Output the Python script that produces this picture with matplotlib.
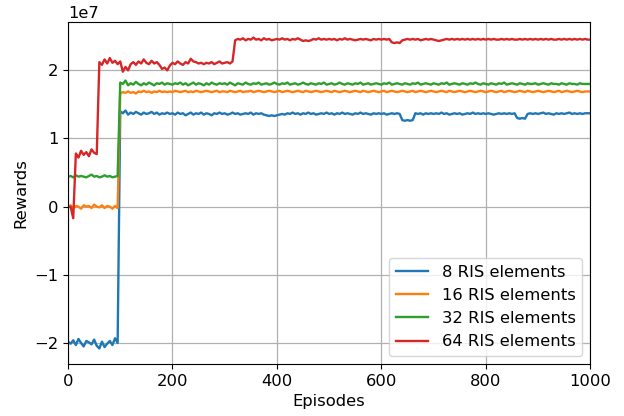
import numpy as np
import matplotlib
matplotlib.use("Agg")
import matplotlib.pyplot as plt

plt.rcParams["font.size"] = 11.8

# Episodes sampled every 5 steps
episodes = np.arange(0, 1001, 5)

# Rewards in units of 1e7, one row per 100 episodes
rewards_8 = [
    -1.98, -2.01, -1.96, -2.03, -1.94, -2.00, -2.05, -1.97, -1.99, -2.02, -1.95, -2.04, -2.08, -1.98, -2.06, -2.01, -1.97, -2.03, -1.93, -2.00,
    1.40, 1.37, 1.41, 1.35, 1.38, 1.36, 1.39, 1.37, 1.35, 1.38, 1.36, 1.37, 1.39, 1.36, 1.38, 1.35, 1.37, 1.36, 1.38, 1.36,
    1.37, 1.35, 1.38, 1.36, 1.37, 1.34, 1.36, 1.38, 1.35, 1.37, 1.36, 1.38, 1.35, 1.37, 1.36, 1.34, 1.37, 1.36, 1.38, 1.36,
    1.37, 1.35, 1.36, 1.38, 1.36, 1.37, 1.35, 1.36, 1.37, 1.36, 1.38, 1.35, 1.37, 1.36, 1.37, 1.35, 1.34, 1.33, 1.34, 1.33,
    1.34, 1.35, 1.36, 1.35, 1.37, 1.36, 1.38, 1.36, 1.37, 1.35, 1.37, 1.36, 1.38, 1.36, 1.37, 1.35, 1.36, 1.37, 1.36, 1.38,
    1.36, 1.37, 1.35, 1.37, 1.36, 1.38, 1.36, 1.37, 1.36, 1.35, 1.37, 1.36, 1.38, 1.36, 1.37, 1.36, 1.35, 1.37, 1.36, 1.37,
    1.36, 1.37, 1.35, 1.36, 1.37, 1.36, 1.37, 1.36, 1.27, 1.26, 1.27, 1.26, 1.27, 1.37, 1.36, 1.37, 1.35, 1.37, 1.36, 1.37,
    1.36, 1.37, 1.36, 1.38, 1.36, 1.37, 1.35, 1.36, 1.37, 1.36, 1.37, 1.35, 1.36, 1.37, 1.36, 1.38, 1.36, 1.37, 1.36, 1.37,
    1.36, 1.37, 1.36, 1.35, 1.36, 1.37, 1.36, 1.37, 1.36, 1.37, 1.36, 1.37, 1.30, 1.29, 1.30, 1.29, 1.36, 1.37, 1.36, 1.37,
    1.36, 1.37, 1.38, 1.36, 1.37, 1.36, 1.35, 1.37, 1.36, 1.37, 1.36, 1.37, 1.38, 1.36, 1.37, 1.36, 1.37, 1.36, 1.37, 1.37,
    1.37,
]

rewards_16 = [
    -0.01, 0.02, -0.02, 0.01, 0.00, -0.03, 0.02, 0.00, 0.01, -0.02, 0.03, 0.00, -0.01, 0.02, -0.02, 0.01, 0.00, -0.03, 0.01, -0.02,
    1.66, 1.68, 1.67, 1.69, 1.67, 1.68, 1.66, 1.69, 1.68, 1.70, 1.68, 1.69, 1.67, 1.69, 1.68, 1.70, 1.68, 1.69, 1.68, 1.69,
    1.68, 1.70, 1.69, 1.68, 1.69, 1.70, 1.68, 1.69, 1.68, 1.70, 1.69, 1.68, 1.69, 1.70, 1.69, 1.68, 1.69, 1.70, 1.68, 1.69,
    1.69, 1.68, 1.70, 1.69, 1.68, 1.69, 1.70, 1.68, 1.69, 1.69, 1.70, 1.68, 1.69, 1.70, 1.69, 1.68, 1.69, 1.70, 1.69, 1.68,
    1.69, 1.70, 1.68, 1.69, 1.70, 1.69, 1.68, 1.69, 1.70, 1.69, 1.68, 1.70, 1.69, 1.68, 1.69, 1.70, 1.69, 1.68, 1.69, 1.70,
    1.69, 1.68, 1.70, 1.69, 1.68, 1.69, 1.70, 1.69, 1.68, 1.69, 1.70, 1.69, 1.68, 1.70, 1.69, 1.68, 1.69, 1.70, 1.69, 1.68,
    1.69, 1.70, 1.68, 1.69, 1.70, 1.69, 1.68, 1.69, 1.70, 1.69, 1.68, 1.69, 1.70, 1.68, 1.69, 1.70, 1.69, 1.68, 1.69, 1.70,
    1.69, 1.68, 1.69, 1.70, 1.69, 1.68, 1.70, 1.69, 1.68, 1.69, 1.70, 1.69, 1.68, 1.69, 1.70, 1.69, 1.68, 1.69, 1.70, 1.69,
    1.68, 1.69, 1.70, 1.69, 1.68, 1.69, 1.70, 1.68, 1.69, 1.70, 1.69, 1.68, 1.69, 1.70, 1.69, 1.68, 1.70, 1.69, 1.68, 1.69,
    1.70, 1.69, 1.68, 1.69, 1.70, 1.69, 1.68, 1.69, 1.70, 1.68, 1.69, 1.70, 1.69, 1.68, 1.69, 1.70, 1.69, 1.68, 1.69, 1.69,
    1.69,
]

rewards_32 = [
    0.44, 0.45, 0.43, 0.46, 0.44, 0.45, 0.44, 0.43, 0.45, 0.47, 0.44, 0.45, 0.43, 0.44, 0.46, 0.44, 0.45, 0.43, 0.44, 0.45,
    1.82, 1.80, 1.85, 1.78, 1.81, 1.79, 1.83, 1.80, 1.78, 1.81, 1.79, 1.82, 1.80, 1.78, 1.81, 1.80, 1.82, 1.79, 1.81, 1.80,
    1.79, 1.81, 1.80, 1.82, 1.79, 1.81, 1.78, 1.80, 1.82, 1.79, 1.81, 1.80, 1.78, 1.81, 1.79, 1.82, 1.80, 1.79, 1.81, 1.80,
    1.81, 1.79, 1.82, 1.80, 1.78, 1.81, 1.80, 1.79, 1.82, 1.80, 1.79, 1.81, 1.80, 1.82, 1.79, 1.80, 1.81, 1.79, 1.80, 1.82,
    1.80, 1.79, 1.81, 1.80, 1.82, 1.79, 1.80, 1.81, 1.79, 1.80, 1.82, 1.80, 1.79, 1.81, 1.80, 1.79, 1.81, 1.80, 1.82, 1.79,
    1.80, 1.81, 1.79, 1.80, 1.82, 1.80, 1.79, 1.81, 1.80, 1.79, 1.81, 1.80, 1.82, 1.79, 1.80, 1.81, 1.79, 1.80, 1.81, 1.80,
    1.79, 1.81, 1.80, 1.82, 1.79, 1.80, 1.81, 1.80, 1.79, 1.81, 1.80, 1.79, 1.81, 1.80, 1.82, 1.79, 1.80, 1.81, 1.80, 1.79,
    1.81, 1.80, 1.79, 1.81, 1.80, 1.82, 1.79, 1.80, 1.81, 1.80, 1.79, 1.81, 1.80, 1.79, 1.81, 1.80, 1.82, 1.80, 1.79, 1.81,
    1.80, 1.79, 1.81, 1.80, 1.79, 1.81, 1.80, 1.82, 1.79, 1.80, 1.81, 1.80, 1.79, 1.81, 1.80, 1.79, 1.81, 1.80, 1.80, 1.81,
    1.79, 1.80, 1.81, 1.80, 1.79, 1.81, 1.80, 1.80, 1.79, 1.81, 1.80, 1.79, 1.81, 1.80, 1.80, 1.79, 1.81, 1.80, 1.80, 1.80,
    1.80,
]

rewards_64 = [
    0.00, 0.00, -0.17, 0.78, 0.72, 0.82, 0.76, 0.80, 0.74, 0.84, 0.79, 0.77, 2.12, 2.08, 2.16, 2.10, 2.18, 2.11, 2.14, 2.09,
    2.13, 1.98, 2.05, 2.00, 2.09, 2.12, 2.08, 2.13, 2.10, 2.16, 2.11, 2.09, 2.14, 2.10, 2.12, 2.08, 2.02, 2.04, 2.00, 2.07,
    2.11, 2.09, 2.13, 2.10, 2.08, 2.12, 2.10, 2.17, 2.13, 2.12, 2.10, 2.11, 2.09, 2.11, 2.10, 2.12, 2.09, 2.11, 2.13, 2.10,
    2.11, 2.12, 2.10, 2.13, 2.44, 2.46, 2.45, 2.47, 2.44, 2.46, 2.45, 2.48, 2.45, 2.46, 2.44, 2.47, 2.45, 2.46, 2.44, 2.45,
    2.46, 2.45, 2.47, 2.45, 2.46, 2.44, 2.46, 2.45, 2.47, 2.45, 2.43, 2.44, 2.43, 2.44, 2.46, 2.45, 2.47, 2.45, 2.46, 2.45,
    2.46, 2.45, 2.46, 2.44, 2.46, 2.45, 2.47, 2.45, 2.46, 2.45, 2.44, 2.45, 2.46, 2.45, 2.46, 2.45, 2.44, 2.46, 2.45, 2.46,
    2.45, 2.46, 2.45, 2.46, 2.41, 2.40, 2.41, 2.40, 2.44, 2.45, 2.46, 2.45, 2.46, 2.45, 2.46, 2.44, 2.45, 2.46, 2.45, 2.46,
    2.45, 2.44, 2.43, 2.44, 2.45, 2.46, 2.45, 2.46, 2.45, 2.46, 2.45, 2.46, 2.45, 2.46, 2.45, 2.46, 2.45, 2.46, 2.45, 2.46,
    2.45, 2.46, 2.45, 2.46, 2.45, 2.45, 2.46, 2.45, 2.46, 2.45, 2.46, 2.45, 2.45, 2.46, 2.45, 2.46, 2.45, 2.46, 2.45, 2.46,
    2.45, 2.46, 2.45, 2.46, 2.45, 2.46, 2.45, 2.45, 2.46, 2.45, 2.46, 2.45, 2.46, 2.45, 2.46, 2.45, 2.46, 2.45, 2.46, 2.45,
    2.45,
]

labels = ["8 RIS elements", "16 RIS elements", "32 RIS elements", "64 RIS elements"]
series = [rewards_8, rewards_16, rewards_32, rewards_64]

fig = plt.figure(figsize=(6.24, 4.16), dpi=100)
ax = fig.add_axes([0.109, 0.125, 0.837, 0.822])

for values, label in zip(series, labels):
    ax.plot(episodes, np.array(values) * 1e7, label=label, linewidth=1.7)

ax.set_xlim(0, 1000)
ax.set_xlabel("Episodes")
ax.set_ylabel("Rewards")
ax.grid(True, color="#b0b0b0", linewidth=0.9)
ax.legend(loc="lower right")

fig.savefig("out.png", dpi=100)
